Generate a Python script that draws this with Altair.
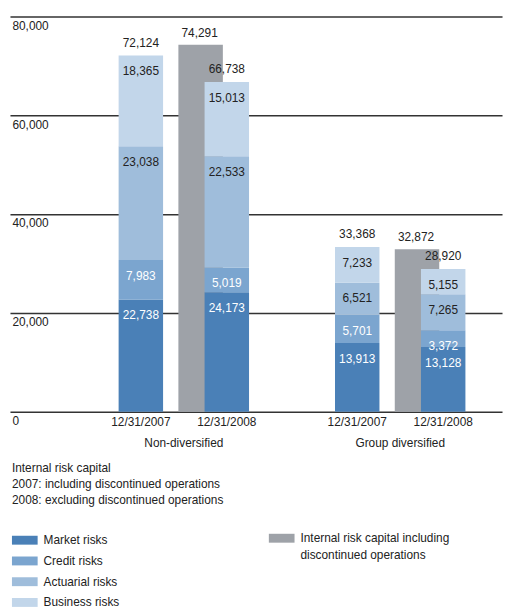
import altair as alt
import pandas as pd

groups = ["Non-diversified", "Group diversified"]
dates = ["12/31/2007", "12/31/2008"]
risks = ["Market risks", "Credit risks", "Actuarial risks", "Business risks"]
# order: ND 2007, ND 2008, GD 2007, GD 2008
market = [22738, 24173, 13913, 13128]
credit = [7983, 5019, 5701, 3372]
actuarial = [23038, 22533, 6521, 7265]
business = [18365, 15013, 7233, 5155]
incl_discontinued = [74291, 32872]
incl_label = "Internal risk capital including|discontinued operations"
legend_title = ["Internal risk capital",
                "2007: including discontinued operations",
                "2008: excluding discontinued operations"]
y_ticks = [0, 20000, 40000, 60000, 80000]

risk_colors = ["#4a80b7", "#7ba5cf", "#9fbddb", "#c2d6ea"]
gray_color = "#9ea2a8"
txt = "#222222"
FONT = "Liberation Sans"

series = [market, credit, actuarial, business]
rows = []
for gi, g in enumerate(groups):
    for di, d in enumerate(dates):
        idx = gi * 2 + di
        for ri, r in enumerate(risks):
            rows.append({"group": g, "date": d, "risk": r, "order": ri,
                         "value": series[ri][idx]})
df = pd.DataFrame(rows)
gray_df = pd.DataFrame({"group": groups, "value": incl_discontinued,
                        "label": [incl_label] * len(groups)})
date_df = pd.DataFrame([{"group": g, "date": d} for g in groups for d in dates])

xscale = alt.Scale(domain=groups, paddingInner=0.3, paddingOuter=0.287,
                   align=0.79, round=False)
offscale = alt.Scale(domain=dates, paddingInner=0.4828, paddingOuter=0.1224,
                     round=False)
yscale = alt.Scale(domain=[0, 80000], nice=False)

xaxis = alt.Axis(title=None, domain=False, ticks=False, labelAngle=0,
                 labelPadding=26, labelFontSize=12, labelColor=txt, grid=False)
yaxis = alt.Axis(title=None, values=y_ticks, labelExpr="format(datum.value, ',')",
                 domain=False, tickSize=0,
                 labelAlign="left", labelBaseline="top", labelPadding=-2,
                 labelOffset=4, labelFontSize=12, labelColor=txt,
                 grid=True, gridColor="#333333", gridWidth=1.5)

X = alt.X("group:N", scale=xscale, axis=xaxis)
XO = alt.XOffset("date:N", scale=offscale)

rect_path = "M-1,-0.346H1V0.346H-1Z"

legend1 = alt.Legend(orient="none", legendX=2, legendY=452, direction="vertical",
                     title=legend_title, titleFontSize=12, titleFontWeight="normal",
                     titleColor=txt, titleLineHeight=16, titlePadding=21,
                     titleLimit=400, padding=0,
                     symbolType=rect_path, symbolSize=676, symbolStrokeWidth=0,
                     symbolOpacity=1, labelFontSize=12, labelColor=txt,
                     labelOffset=6, rowPadding=2)
legend2 = alt.Legend(orient="none", legendX=262, legendY=515, direction="vertical",
                     title=None, padding=0,
                     symbolType=rect_path, symbolSize=676, symbolStrokeWidth=0,
                     symbolOpacity=1, labelFontSize=12, labelColor=txt,
                     labelOffset=6, labelLimit=400, labelBaseline="middle",
                     labelExpr="split(datum.label, '|')")

Y = lambda f: alt.Y(f, scale=yscale, axis=yaxis)

gray = alt.Chart(gray_df).mark_bar(width=45, xOffset=17).encode(
    x=X,
    y=Y("value:Q"),
    color=alt.Color("label:N", scale=alt.Scale(domain=[incl_label], range=[gray_color]),
                    legend=legend2),
)
gray_text = alt.Chart(gray_df).mark_text(xOffset=16, dy=-12, fontSize=12,
                                         baseline="middle", color=txt).encode(
    x=X, y=Y("value:Q"), text=alt.Text("value:Q", format=","))

stacked = alt.Chart(df).transform_stack(
    stack="value", groupby=["group", "date"], as_=["y0", "y1"],
    sort=[alt.SortField("order", order="ascending")])

bars = stacked.mark_bar().encode(
    x=X, xOffset=XO,
    y=Y("y1:Q"),
    y2="y0:Q",
    color=alt.Color("risk:N", scale=alt.Scale(domain=risks, range=risk_colors),
                    legend=legend1),
)
labels = stacked.mark_text(dy=16, fontSize=12, baseline="middle").encode(
    x=X, xOffset=XO,
    y=Y("y1:Q"),
    text=alt.Text("value:Q", format=","),
    fill=alt.condition("datum.order < 2", alt.value("white"), alt.value(txt)),
)
totals = alt.Chart(df).transform_aggregate(
    total="sum(value)", groupby=["group", "date"]
).mark_text(dy=-13, fontSize=12, baseline="middle", color=txt).encode(
    x=X, xOffset=XO, y=Y("total:Q"), text=alt.Text("total:Q", format=","))

date_text = alt.Chart(date_df).mark_text(dy=10, fontSize=12, baseline="middle",
                                         color=txt).encode(
    x=X, xOffset=XO, y=alt.datum(0, scale=yscale, axis=yaxis), text="date:N")

chart = alt.layer(gray, gray_text, bars, labels, totals, date_text).resolve_scale(
    color="independent"
).properties(
    width=498, height=400,
    autosize=alt.AutoSizeParams(type="none"),
    padding={"left": 2, "top": 5, "right": 2, "bottom": 197},
).configure(
    font=FONT,
    style={"guide-label": {"lineHeight": 17}},
).configure_view(strokeWidth=0)

chart.save("out.html", embed_options={"renderer": "svg", "actions": False})
